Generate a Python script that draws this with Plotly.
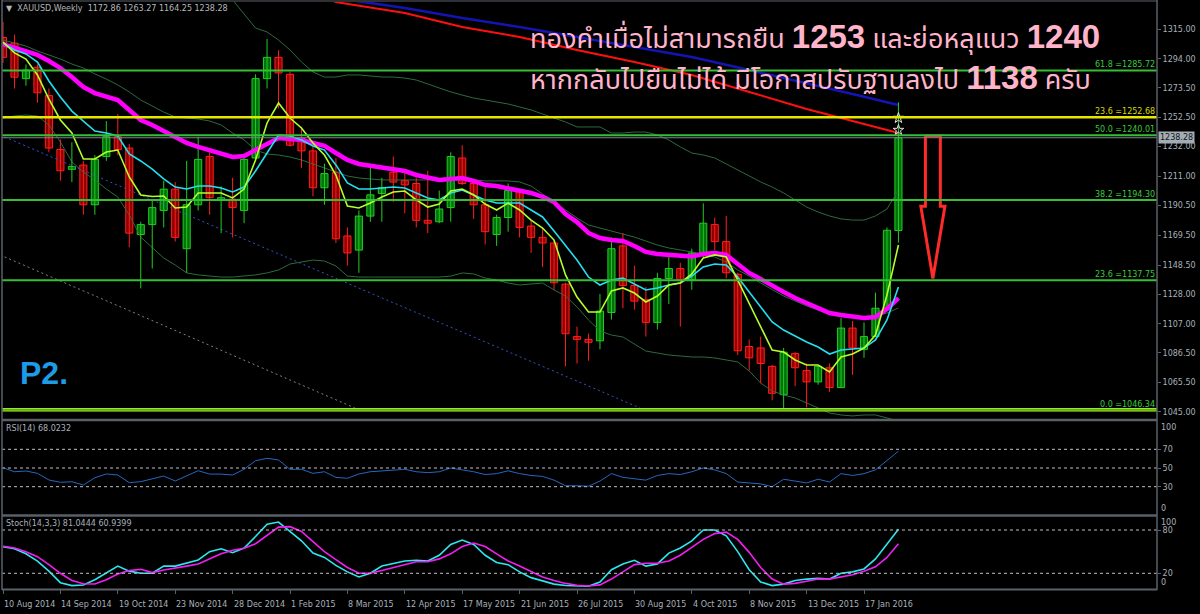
import plotly.graph_objects as go

# ---------------- data ----------------
tick_labels = ["10 Aug 2014", "14 Sep 2014", "19 Oct 2014", "23 Nov 2014", "28 Dec 2014",
               "1 Feb 2015", "8 Mar 2015", "12 Apr 2015", "17 May 2015", "21 Jun 2015",
               "26 Jul 2015", "30 Aug 2015", "4 Oct 2015", "8 Nov 2015", "13 Dec 2015",
               "17 Jan 2016"]
tick_bars = [0, 5, 10, 15, 20, 25, 30, 35, 40, 45, 50, 55, 60, 65, 70, 75]

price_ticks = [1315.0, 1294.0, 1273.5, 1252.5, 1232.0, 1211.0, 1190.5, 1169.5,
               1148.5, 1128.0, 1107.0, 1086.5, 1065.5, 1045.0]

opens = [1309, 1305, 1280, 1288, 1268, 1230, 1216, 1219, 1191, 1225,
         1239, 1231, 1170, 1177, 1187, 1202, 1160, 1191, 1225, 1194,
         1195, 1187, 1224, 1280, 1295, 1283, 1238, 1229, 1203, 1214,
         1169, 1159, 1183, 1199, 1214, 1208, 1206, 1180, 1179, 1189,
         1224, 1206, 1191, 1170, 1182, 1200, 1176, 1168, 1164, 1135,
         1098, 1096, 1095, 1115, 1162, 1134, 1124, 1108, 1139, 1146,
         1138, 1157, 1177, 1165, 1142, 1091, 1090, 1077, 1057, 1086,
         1074, 1066, 1076, 1062, 1104, 1089, 1098, 1118, 1172.86]
highs = [1320, 1311, 1290, 1290, 1273, 1237, 1235, 1222, 1226, 1250,
         1255, 1234, 1179, 1194, 1208, 1207, 1222, 1239, 1228, 1204,
         1210, 1224, 1283, 1308, 1300, 1285, 1246, 1232, 1220, 1224,
         1175, 1187, 1220, 1210, 1225, 1215, 1210, 1215, 1201, 1228,
         1233, 1207, 1203, 1184, 1206, 1202, 1180, 1175, 1166, 1136,
         1105, 1100, 1128, 1168, 1171, 1148, 1133, 1143, 1155, 1150,
         1160, 1192, 1182, 1183, 1143, 1096, 1098, 1078, 1090, 1087,
         1079, 1077, 1079, 1111, 1109, 1108, 1129, 1175, 1263.27]
lows = [1291, 1273, 1275, 1263, 1228, 1208, 1207, 1184, 1184, 1222,
        1226, 1161, 1132, 1146, 1175, 1165, 1143, 1187, 1184, 1171,
        1168, 1178, 1222, 1273, 1259, 1232, 1217, 1197, 1191, 1164,
        1148, 1143, 1179, 1179, 1193, 1185, 1175, 1171, 1178, 1179,
        1205, 1181, 1163, 1162, 1172, 1168, 1157, 1147, 1131, 1077,
        1079, 1081, 1089, 1110, 1118, 1117, 1098, 1103, 1121, 1105,
        1131, 1154, 1159, 1139, 1085, 1074, 1065, 1053, 1046.34, 1063,
        1048, 1064, 1059, 1062, 1071, 1083, 1098, 1116, 1164.25]
closes = [1295, 1281, 1286, 1270, 1231, 1215, 1218, 1191, 1223, 1239,
          1230, 1171, 1177, 1189, 1202, 1168, 1191, 1223, 1196, 1196,
          1189, 1223, 1280, 1295, 1284, 1233, 1229, 1203, 1213, 1167,
          1157, 1183, 1198, 1203, 1207, 1205, 1180, 1178, 1188, 1225,
          1206, 1191, 1172, 1182, 1201, 1175, 1168, 1164, 1136, 1100,
          1096, 1094, 1116, 1160, 1134, 1123, 1108, 1139, 1146, 1138,
          1157, 1178, 1165, 1143, 1088, 1083, 1079, 1058, 1087, 1076,
          1066, 1077, 1062, 1104, 1090, 1098, 1118, 1173, 1238.28]

ma_fast = [1305.8, 1298.1, 1293.8, 1282.6, 1265.6, 1250.8, 1241.6, 1223.3, 1223.3, 1228.2,
           1229.6, 1210.6, 1197.9, 1196.8, 1197.2, 1188.7, 1189.4, 1199.3, 1199.3, 1199.3,
           1195.8, 1202.1, 1222.6, 1248.7, 1262.8, 1252.2, 1245.2, 1234.6, 1226.1, 1212.0,
           1190.1, 1188.7, 1192.2, 1196.5, 1200.0, 1200.7, 1194.4, 1189.4, 1191.5, 1200.7,
           1202.1, 1197.9, 1191.5, 1187.3, 1192.2, 1187.3, 1180.2, 1174.6, 1166.1, 1141.5,
           1125.9, 1115.3, 1115.3, 1130.2, 1132.3, 1128.7, 1122.4, 1126.6, 1134.4, 1135.8,
           1142.2, 1153.4, 1155.6, 1154.1, 1137.9, 1121.7, 1105.5, 1088.5, 1087.1, 1081.5,
           1077.9, 1077.9, 1073.0, 1083.6, 1085.7, 1089.9, 1099.1, 1127.3, 1162.6]
ma_mid = [1305.1, 1300.2, 1297.4, 1291.7, 1278.3, 1267.0, 1257.1, 1250.1, 1243.0, 1241.6,
          1239.5, 1226.8, 1221.9, 1216.2, 1209.2, 1203.5, 1202.1, 1204.2, 1204.2, 1202.8,
          1200.0, 1203.5, 1214.8, 1227.5, 1240.2, 1239.5, 1236.7, 1232.5, 1229.6, 1219.1,
          1206.4, 1202.1, 1202.1, 1202.8, 1203.5, 1202.8, 1199.3, 1195.8, 1194.4, 1199.3,
          1201.4, 1197.9, 1194.4, 1192.2, 1192.2, 1192.2, 1187.3, 1182.4, 1172.5, 1162.6,
          1152.0, 1140.0, 1134.4, 1137.9, 1139.3, 1135.1, 1130.9, 1132.3, 1134.4, 1135.8,
          1140.7, 1147.1, 1149.2, 1148.5, 1140.0, 1129.5, 1118.9, 1108.3, 1102.6, 1098.4,
          1094.2, 1090.6, 1085.7, 1088.5, 1089.2, 1089.9, 1095.6, 1109.7, 1133.0]
ma_slow = [1304.4, 1301.6, 1299.5, 1296.7, 1292.4, 1287.5, 1281.1, 1274.1, 1269.8, 1267.0,
           1264.9, 1257.9, 1250.8, 1247.3, 1243.0, 1238.8, 1234.6, 1231.8, 1229.6, 1226.8,
           1224.7, 1225.4, 1229.6, 1234.6, 1238.1, 1237.4, 1236.7, 1234.6, 1232.5, 1227.5,
           1222.6, 1219.8, 1218.4, 1216.9, 1216.2, 1214.8, 1212.0, 1209.9, 1208.5, 1209.2,
           1209.9, 1207.8, 1204.9, 1204.2, 1202.8, 1201.4, 1199.3, 1196.5, 1192.9, 1184.5,
           1178.8, 1171.1, 1167.5, 1166.1, 1165.4, 1161.9, 1157.7, 1156.3, 1155.6, 1154.9,
           1154.5, 1156.3, 1157.0, 1155.6, 1149.2, 1142.9, 1138.6, 1133.7, 1129.5, 1125.2,
           1121.7, 1118.2, 1114.6, 1113.2, 1111.8, 1111.1, 1111.8, 1117.5, 1125.2]
bb_mid = [1307.2, 1305.1, 1303.0, 1299.5, 1296.7, 1293.8, 1290.3, 1287.5, 1283.3, 1279.7,
          1275.5, 1270.6, 1264.9, 1260.7, 1256.4, 1252.9, 1252.2, 1251.5, 1250.1, 1247.3,
          1241.6, 1236.7, 1229.6, 1226.8, 1226.1, 1224.7, 1222.6, 1219.8, 1216.9, 1214.1,
          1211.3, 1209.9, 1209.2, 1208.5, 1208.5, 1208.5, 1208.5, 1208.5, 1208.5, 1208.5,
          1208.5, 1208.5, 1207.8, 1207.8, 1207.8, 1207.1, 1204.2, 1198.6, 1192.9, 1187.3,
          1181.7, 1176.7, 1174.6, 1172.5, 1170.4, 1168.2, 1165.4, 1162.6, 1160.5, 1159.1,
          1157.7, 1156.3, 1154.1, 1150.6, 1145.0, 1140.7, 1135.8, 1130.9, 1126.6, 1123.1,
          1119.6, 1116.8, 1114.6, 1113.2, 1112.5, 1111.8, 1112.5, 1114.6, 1118.2]
bb_upper = [None] * 20 + [
    1335.5, 1325.6, 1315.7, 1312.9, 1307.2, 1300.2, 1291.7, 1284.7, 1281.1, 1281.1,
    1282.6, 1282.6, 1281.8, 1281.1, 1281.1, 1280.4, 1279.0, 1276.2, 1273.4, 1270.6,
    1268.4, 1266.3, 1264.9, 1263.5, 1262.1, 1260.0, 1257.9, 1255.0, 1252.2, 1249.4,
    1245.9, 1245.9, 1245.9, 1241.6, 1241.6, 1242.3, 1242.3, 1240.2, 1236.7, 1231.8,
    1227.5, 1226.1, 1224.0, 1219.8, 1215.5, 1211.3, 1207.1, 1203.5, 1199.3, 1194.4,
    1189.4, 1185.9, 1183.1, 1181.0, 1180.2, 1180.2, 1183.1, 1188.0, 1201.4]
bb_lower = [1252.2, 1253.6, 1254.3, 1253.6, 1247.3, 1235.3, 1221.2, 1214.1, 1208.5, 1202.1,
            1196.5, 1183.8, 1168.2, 1160.5, 1153.4, 1148.5, 1142.9, 1141.5, 1140.7, 1140.0,
            1140.0, 1140.7, 1141.5, 1142.9, 1145.0, 1149.2, 1150.6, 1152.0, 1151.3, 1147.8,
            1140.7, 1140.0, 1140.0, 1140.0, 1140.0, 1140.0, 1140.0, 1140.0, 1140.0, 1140.7,
            1142.9, 1142.2, 1139.3, 1137.9, 1135.8, 1134.4, 1135.1, 1135.8, 1130.9, 1126.6,
            1118.9, 1109.7, 1101.9, 1099.1, 1097.7, 1092.8, 1087.8, 1086.4, 1085.0, 1084.3,
            1083.6, 1083.6, 1082.9, 1081.5, 1080.1, 1073.7, 1065.2, 1059.6, 1056.8, 1054.7,
            1051.2, 1047.6, 1044.1, 1042.7, 1042.0, 1042.7, 1042.7, 1040.6, 1038.5]

ma_red_bars = [28, 29, 35, 40, 45, 50, 55, 60, 65, 70, 74, 78]
ma_red = [1337.5, 1334.0, 1326.3, 1316.4, 1309.4, 1300.2, 1291.7, 1282.6, 1270.6, 1258.6, 1250.1, 1241.6]
ma_blue_bars = [29, 30, 35, 40, 45, 50, 55, 60, 65, 70, 74, 78]
ma_blue = [1337.0, 1335.7, 1329.8, 1322.8, 1316.4, 1309.4, 1302.3, 1295.2, 1286.1, 1276.9, 1269.1, 1261.4]

rsi = [50.3, 46.0, 46.8, 44.3, 37.2, 34.7, 35.3, 31.8, 39.6, 43.6,
       42.5, 34.3, 35.4, 38.2, 41.4, 36.1, 41.8, 47.1, 43.5, 43.5,
       42.5, 48.6, 57.8, 60.4, 58.6, 48.6, 48.6, 44.3, 46.0, 40.0,
       39.0, 43.6, 46.0, 47.1, 48.0, 48.6, 46, 45, 46, 50,
       48, 46, 43, 44, 47, 44, 42, 41, 37, 31,
       31, 30.5, 36, 44, 40, 38.5, 37, 42, 44, 43,
       46, 50, 48, 44, 35, 34, 33, 30, 38, 36,
       34, 38, 35, 44, 42, 44, 48, 58, 68.0232]
stoch_k = [57, 54, 47, 37, 23, 7, 3, 3.8, 11, 21,
           30, 23, 20, 20, 30, 30, 34, 38.5, 50, 54,
           48.6, 55, 71, 88, 91, 78, 65, 48, 42, 31,
           22, 15, 20, 30, 34, 37, 38, 37, 45, 60,
           66, 60, 45, 35, 32, 22, 14, 10, 5, 3,
           2, 2, 8, 25, 33, 38, 30, 33, 48, 55,
           65, 80, 80, 72, 50, 25, 8, 3, 5, 10,
           12, 13, 12, 20, 22, 26, 40, 60, 81.0444]
stoch_d = [57.5, 55, 50, 43, 32, 20, 10, 5.5, 5.2, 11,
           19, 24, 25.5, 21, 24.6, 27.8, 30, 33, 40.5, 47,
           52, 54.6, 61, 72, 84, 84.6, 78, 64, 50, 39,
           28, 20, 20, 24, 28, 32, 36, 36, 40, 47,
           57, 62, 57, 47, 37, 30, 23, 15, 10, 6,
           3.5, 2.5, 4, 12, 22, 32, 34, 34, 37, 45,
           56, 67, 75, 77, 67, 49, 28, 12, 5, 6,
           9, 12, 12, 15, 18, 23, 29, 42, 60.9399]

fib_levels = [1285.72, 1240.01, 1194.30, 1137.75, 1046.34]
fib_names = ["61.8", "50.0", "38.2", "23.6", "0.0"]
fib2_levels = [1252.68, 1046.34]
fib2_names = ["23.6"]
bid_price = 1238.28
rsi_levels = [70, 50, 30]
stoch_levels = [80, 20]

trend_blue_bars = [-0.26, 55.5]
trend_blue = [1240.2, 1047.6]
trend_gray_bars = [-0.26, 30.66]
trend_gray = [1155.6, 1047.6]

arrow_bar = 81.0
arrow_top = 1239.5
arrow_neck = 1190.0
arrow_tip = 1139.0
star_bar = 78
star_prices = [1252.2, 1243.7]

# ---------------- geometry / style ----------------
W, H = 1200, 614
ML, MR, MT, MB = 2, 43, 0, 24
PW = W - ML - MR
PH = H - MT - MB
PITCH = 11.48      # px per bar
X0PX = 3           # px of bar 0


def ypap(row):
    return (PH - (row - MT)) / PH


def xpap(col):
    return (col - ML) / PW


UI = "#A8B0BA"
SMALL = dict(family="DejaVu Sans", size=8, color=UI)
UP_FILL, UP_LINE = "#00700A", "#22CC22"
DN_FILL, DN_LINE = "#8E0000", "#FF1E1E"
FIB_GREEN = "#36BE36"
BAND = "#2D6A3F"

bars = list(range(len(closes)))
fig = go.Figure()


def line(x, y, color, width, yaxis="y", dash=None):
    fig.add_trace(go.Scatter(x=x, y=y, mode="lines", yaxis=yaxis, xaxis="x",
                             line=dict(color=color, width=width, dash=dash),
                             hoverinfo="skip", connectgaps=False))


# bands
line(bars, bb_upper, BAND, 1)
line(bars, bb_mid, BAND, 1)
line(bars, bb_lower, BAND, 1)
# trend lines
line(trend_blue_bars, trend_blue, "#3552C8", 1, dash="2px,3px")
line(trend_gray_bars, trend_gray, "#808080", 1, dash="2px,3px")
# long MAs
line(ma_red_bars, ma_red, "#FF1010", 2)
line(ma_blue_bars, ma_blue, "#1414B4", 2.5)

# candles
up = [i for i in bars if closes[i] >= opens[i]]
dn = [i for i in bars if closes[i] < opens[i]]
for idx, col, fill in ((up, UP_LINE, UP_FILL), (dn, DN_LINE, DN_FILL)):
    wx, wy = [], []
    for i in idx:
        wx += [i, i, None]
        wy += [lows[i], highs[i], None]
    line(wx, wy, col, 1)
    fig.add_trace(go.Bar(x=idx, y=[max(abs(closes[i] - opens[i]), 0.8) for i in idx],
                         base=[min(opens[i], closes[i]) for i in idx], width=0.62,
                         marker=dict(color=fill, line=dict(color=col, width=1)),
                         yaxis="y", xaxis="x", hoverinfo="skip"))

# short MAs
line(bars, ma_slow, "#FF00FF", 4.5)
line(bars, ma_mid, "#22E0F0", 1.6)
line(bars, ma_fast, "#B4FF2A", 1.6)

# arrow
SH, HH = 0.65, 1.05
line([arrow_bar - SH, arrow_bar + SH, arrow_bar + SH, arrow_bar + HH, arrow_bar,
      arrow_bar - HH, arrow_bar - SH, arrow_bar - SH],
     [arrow_top, arrow_top, arrow_neck, arrow_neck, arrow_tip, arrow_neck, arrow_neck, arrow_top],
     "#FF2A2A", 3)
fig.add_trace(go.Scatter(x=[star_bar] * len(star_prices), y=star_prices, mode="markers",
                         marker=dict(symbol="star-open", size=8, color="#E0E0E0", line=dict(width=1)),
                         yaxis="y", xaxis="x", hoverinfo="skip"))

# indicators
line(bars, rsi, "#2468C0", 1, yaxis="y2")
line(bars, stoch_k, "#2EE6EE", 1.6, yaxis="y3")
line(bars, stoch_d, "#F020F0", 1.6, yaxis="y3")

shapes = []
# fib lines
for lv in fib2_levels:
    shapes.append(dict(type="line", xref="paper", x0=0, x1=1, yref="y", y0=lv, y1=lv,
                       line=dict(color="#E6E600", width=3.5 if lv < 1100 else 2.5)))
for lv in fib_levels:
    shapes.append(dict(type="line", xref="paper", x0=0, x1=1, yref="y", y0=lv, y1=lv,
                       line=dict(color=FIB_GREEN, width=2)))
shapes.append(dict(type="line", xref="paper", x0=0, x1=1, yref="y", y0=bid_price, y1=bid_price,
                   line=dict(color="#7A828C", width=1)))
for lv in rsi_levels:
    shapes.append(dict(type="line", xref="paper", x0=0, x1=1, yref="y2", y0=lv, y1=lv,
                       line=dict(color="#C0C0C0", width=1, dash="3px,3px")))
for lv in stoch_levels:
    shapes.append(dict(type="line", xref="paper", x0=0, x1=1, yref="y3", y0=lv, y1=lv,
                       line=dict(color="#C0C0C0", width=1, dash="3px,3px")))
# frame & separators
SEP = "#5A6068"
for row in (420, 515.5):
    shapes.append(dict(type="line", xref="paper", x0=0, x1=1, yref="paper", y0=ypap(row), y1=ypap(row),
                       line=dict(color=SEP, width=2.5)))
shapes.append(dict(type="line", xref="paper", x0=0, x1=1, yref="paper", y0=ypap(589.5), y1=ypap(589.5),
                   line=dict(color=SEP, width=2)))
shapes.append(dict(type="line", xref="paper", x0=0, x1=0, yref="paper", y0=0, y1=1,
                   line=dict(color=SEP, width=1.5)))
shapes.append(dict(type="line", xref="paper", x0=0, x1=1, yref="paper", y0=ypap(1), y1=ypap(1),
                   line=dict(color=SEP, width=1)))
shapes.append(dict(type="line", xref="paper", x0=1, x1=1, yref="paper", y0=0, y1=1,
                   line=dict(color=SEP, width=1.5)))

ann = []
ann.append(dict(xref="paper", yref="paper", x=xpap(4), y=ypap(9), xanchor="left", yanchor="middle",
                text="\u25BC  XAUUSD,Weekly  1172.86 1263.27 1164.25 1238.28", showarrow=False,
                font=dict(family="DejaVu Sans", size=8, color="#B4B8BC")))
ann.append(dict(xref="paper", yref="paper", x=xpap(4), y=ypap(428), xanchor="left", yanchor="middle",
                text="RSI(14) %.4f" % rsi[-1], showarrow=False, font=SMALL))
ann.append(dict(xref="paper", yref="paper", x=xpap(4), y=ypap(523), xanchor="left", yanchor="middle",
                text="Stoch(14,3,3) %.4f %.4f" % (stoch_k[-1], stoch_d[-1]), showarrow=False, font=SMALL))
for name, lv in zip(fib_names, fib_levels):
    ann.append(dict(xref="paper", yref="y", x=1, y=lv, xanchor="right", yanchor="bottom",
                    text="%s =%.2f" % (name, lv), showarrow=False, yshift=-1,
                    font=dict(family="DejaVu Sans", size=8, color="#3CC83C")))
for name, lv in zip(fib2_names, fib2_levels):
    ann.append(dict(xref="paper", yref="y", x=1, y=lv, xanchor="right", yanchor="bottom",
                    text="%s =%.2f" % (name, lv), showarrow=False, yshift=-1,
                    font=dict(family="DejaVu Sans", size=8, color="#D8D800")))
for b, lab in zip(tick_bars, tick_labels):
    ann.append(dict(xref="x", yref="paper", x=b, y=ypap(604), xanchor="left", yanchor="middle",
                    text=lab, showarrow=False, font=SMALL, xshift=-1))
ann.append(dict(xref="paper", yref="paper", x=1, y=ypap(421), xanchor="left", yanchor="top", text="100",
                showarrow=False, font=SMALL, xshift=2))
ann.append(dict(xref="paper", yref="paper", x=1, y=ypap(515), xanchor="left", yanchor="bottom", text="0",
                showarrow=False, font=SMALL, xshift=2))
ann.append(dict(xref="paper", yref="paper", x=1, y=ypap(516), xanchor="left", yanchor="top", text="100",
                showarrow=False, font=SMALL, xshift=2))
ann.append(dict(xref="paper", yref="paper", x=1, y=ypap(589), xanchor="left", yanchor="bottom", text="0",
                showarrow=False, font=SMALL, xshift=2))
ann.append(dict(xref="paper", yref="y", x=1, y=bid_price, xanchor="left", yanchor="middle",
                text="%.2f" % bid_price, showarrow=False, bgcolor="#A4ACB4", borderpad=1,
                font=dict(family="DejaVu Sans", size=8, color="#101418"), xshift=1))
PINK = "#FFB4CA"
THAI = "Tahoma, 'Noto Sans Thai', 'Noto Sans', 'DejaVu Sans', sans-serif"
NUM = "<span style='font-family:Liberation Sans, Arial; font-size:33px'><b>%s</b></span>"
ann.append(dict(xref="paper", yref="paper", x=xpap(528), y=ypap(39), xanchor="left", yanchor="middle",
                text="ทองคำเมื่อไม่สามารถยืน " + NUM % "1253" + " และย่อหลุแนว " + NUM % "1240",
                showarrow=False, font=dict(family=THAI, size=27, color=PINK)))
ann.append(dict(xref="paper", yref="paper", x=xpap(528), y=ypap(80), xanchor="left", yanchor="middle",
                text="หากกลับไปยืนไม่ได้ มีโอกาสปรับฐานลงไป " + NUM % "1138" + " ครับ",
                showarrow=False, font=dict(family=THAI, size=27, color=PINK)))
ann.append(dict(xref="paper", yref="paper", x=xpap(18), y=ypap(373), xanchor="left", yanchor="middle",
                text="<b>P2.</b>", showarrow=False,
                font=dict(family="Liberation Sans, Arial", size=32, color="#1E9BE6")))

xr = [(ML - X0PX) / PITCH, (ML + PW - X0PX) / PITCH]
MAIN_TOP = 1315 + (29 - 2) / 1.4174
MAIN_BOT = 1315 - (419 - 29) / 1.4174

fig.update_layout(
    width=W, height=H, margin=dict(l=ML, r=MR, t=MT, b=MB),
    paper_bgcolor="black", plot_bgcolor="black", showlegend=False,
    barmode="overlay", hovermode=False, shapes=shapes, annotations=ann,
    xaxis=dict(range=xr, domain=[0, 1], anchor="y3", showgrid=False, zeroline=False,
               ticks="outside", tickvals=tick_bars, ticklen=4, tickcolor=SEP,
               showticklabels=False, fixedrange=True),
    yaxis=dict(domain=[ypap(419), ypap(2)], range=[MAIN_BOT, MAIN_TOP], side="right", anchor="x",
               tickvals=price_ticks, ticktext=["%.2f" % v for v in price_ticks],
               tickfont=SMALL, ticks="outside", ticklen=3, tickcolor=SEP,
               showgrid=False, zeroline=False, showline=False),
    yaxis2=dict(domain=[ypap(515), ypap(421)], range=[-0.27, 100.27], side="right", anchor="x",
                tickvals=rsi_levels, tickfont=SMALL, ticks="outside", ticklen=3, tickcolor=SEP,
                showgrid=False, zeroline=False),
    yaxis3=dict(domain=[ypap(589), ypap(517)], range=[-1.75, 98.01], side="right", anchor="x",
                tickvals=stoch_levels, tickfont=SMALL, ticks="outside", ticklen=3, tickcolor=SEP,
                showgrid=False, zeroline=False),
)

fig.write_html("out.html", config={"displayModeBar": False},
               post_script="document.body.style.margin='0px';document.body.style.overflow='hidden';")
